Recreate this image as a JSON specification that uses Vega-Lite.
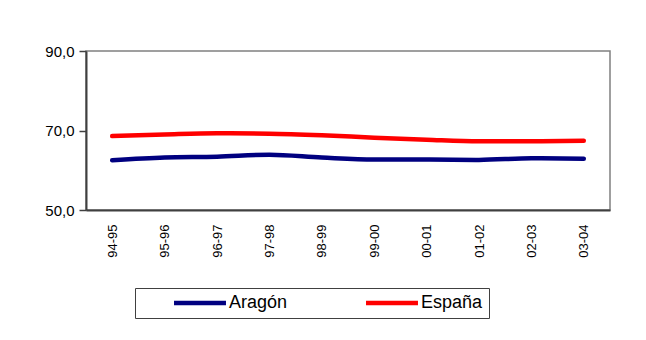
{
  "$schema": "https://vega.github.io/schema/vega-lite/v6.json",
  "width": 524,
  "height": 159,
  "autosize": {"type": "none"},
  "padding": {"left": 86, "top": 51, "right": 36, "bottom": 130},
  "background": "white",
  "data": {
    "values": [
      {"curso": "94-95", "serie": "Aragón", "valor": 62.5},
      {"curso": "95-96", "serie": "Aragón", "valor": 63.2},
      {"curso": "96-97", "serie": "Aragón", "valor": 63.4},
      {"curso": "97-98", "serie": "Aragón", "valor": 63.9},
      {"curso": "98-99", "serie": "Aragón", "valor": 63.2},
      {"curso": "99-00", "serie": "Aragón", "valor": 62.7},
      {"curso": "00-01", "serie": "Aragón", "valor": 62.7},
      {"curso": "01-02", "serie": "Aragón", "valor": 62.6},
      {"curso": "02-03", "serie": "Aragón", "valor": 63.0},
      {"curso": "03-04", "serie": "Aragón", "valor": 62.9},
      {"curso": "94-95", "serie": "España", "valor": 68.6},
      {"curso": "95-96", "serie": "España", "valor": 69.0},
      {"curso": "96-97", "serie": "España", "valor": 69.3},
      {"curso": "97-98", "serie": "España", "valor": 69.2},
      {"curso": "98-99", "serie": "España", "valor": 68.8},
      {"curso": "99-00", "serie": "España", "valor": 68.2},
      {"curso": "00-01", "serie": "España", "valor": 67.7},
      {"curso": "01-02", "serie": "España", "valor": 67.3},
      {"curso": "02-03", "serie": "España", "valor": 67.3},
      {"curso": "03-04", "serie": "España", "valor": 67.4}
    ]
  },
  "mark": {"type": "line", "strokeWidth": 4.5, "strokeCap": "round", "interpolate": "monotone"},
  "encoding": {
    "x": {
      "field": "curso", "type": "ordinal", "sort": null, "title": null,
      "scale": {"paddingInner": 0, "paddingOuter": 0.5},
      "axis": {
        "labelAngle": -90, "labelPadding": 14, "ticks": false,
        "labelFont": "Liberation Sans", "labelFontSize": 13, "labelColor": "#000000",
        "domainColor": "#404040", "domainWidth": 2, "grid": false
      }
    },
    "y": {
      "field": "valor", "type": "quantitative", "title": null,
      "scale": {"domain": [50, 90], "nice": false, "zero": false},
      "axis": {
        "values": [50, 70, 90], "grid": false,
        "labelExpr": "replace(format(datum.value, '.1f'), '.', ',')",
        "labelFont": "Liberation Sans", "labelFontSize": 15, "labelColor": "#000000",
        "labelPadding": 5, "tickSize": 7, "tickColor": "#404040", "tickWidth": 1.5,
        "domainColor": "#404040", "domainWidth": 2
      }
    },
    "color": {
      "field": "serie", "type": "nominal", "title": null,
      "scale": {"domain": ["Aragón", "España"], "range": ["#000080", "#FF0000"]},
      "legend": {
        "orient": "none", "legendX": 49, "legendY": 237,
        "direction": "horizontal", "columns": 2,
        "symbolType": "M-5,0H5", "symbolSize": 108, "symbolStrokeWidth": 4.5,
        "symbolOffset": 50, "labelOffset": 20, "columnPadding": 45,
        "labelFont": "Liberation Sans", "labelFontSize": 18, "labelColor": "#000000",
        "strokeColor": "#404040", "padding": 6, "fillColor": "white"
      }
    }
  },
  "config": {
    "view": {"stroke": "#808080", "strokeWidth": 1.5}
  }
}
